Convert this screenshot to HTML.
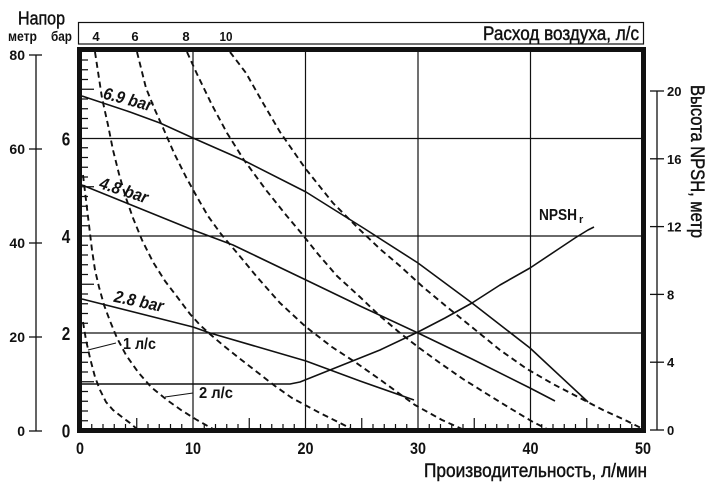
<!DOCTYPE html>
<html>
<head>
<meta charset="utf-8">
<style>
html,body{margin:0;padding:0;background:#fff;}
body{width:725px;height:496px;overflow:hidden;}
svg{display:block;}
text{font-family:"Liberation Sans",Arial,sans-serif;fill:#111;}
.b{font-weight:bold;}
.t{stroke:#111;stroke-width:0.45;}
</style>
</head>
<body>
<svg width="725" height="496" viewBox="0 0 725 496" xmlns="http://www.w3.org/2000/svg">
<rect x="0" y="0" width="725" height="496" fill="#fff"/>

<!-- Top air box -->
<rect x="78.5" y="22.5" width="565" height="21.5" fill="none" stroke="#111" stroke-width="1.2"/>
<text x="483" y="40" font-size="19" class="t" textLength="156" lengthAdjust="spacingAndGlyphs">Расход воздуха, л/с</text>
<g font-size="13" text-anchor="middle">
<text x="96" y="41" class="b">4</text>
<text x="135" y="41" class="b">6</text>
<text x="186" y="41" class="b">8</text>
<text x="226" y="41" class="b" textLength="13" lengthAdjust="spacingAndGlyphs">10</text>
</g>

<!-- Left header -->
<text x="18" y="24.5" font-size="18" class="t" textLength="47" lengthAdjust="spacingAndGlyphs">Напор</text>
<text x="8" y="41" font-size="14" class="b" textLength="29" lengthAdjust="spacingAndGlyphs">метр</text>
<text x="51" y="41" font-size="14" class="b" textLength="21" lengthAdjust="spacingAndGlyphs">бар</text>

<!-- Left meter axis -->
<g stroke="#111" stroke-width="1.3">
<line x1="36" y1="55" x2="36" y2="431"/>
<line x1="29" y1="55" x2="42" y2="55"/>
<line x1="29" y1="149" x2="42" y2="149"/>
<line x1="29" y1="243" x2="42" y2="243"/>
<line x1="29" y1="337" x2="42" y2="337"/>
<line x1="29" y1="431" x2="42" y2="431"/>
</g>
<g font-size="14" text-anchor="end">
<text x="25" y="60" class="b">80</text>
<text x="25" y="154" class="b">60</text>
<text x="25" y="248" class="b">40</text>
<text x="25" y="342" class="b">20</text>
<text x="25" y="436" class="b">0</text>
</g>

<!-- Bar labels -->
<g font-size="18" text-anchor="middle">
<text x="66" y="145.5" class="b" textLength="8.5" lengthAdjust="spacingAndGlyphs">6</text>
<text x="66" y="243" class="b" textLength="8.5" lengthAdjust="spacingAndGlyphs">4</text>
<text x="66" y="340" class="b" textLength="8.5" lengthAdjust="spacingAndGlyphs">2</text>
<text x="66" y="437.5" class="b" textLength="8.5" lengthAdjust="spacingAndGlyphs">0</text>
</g>

<!-- Grid -->
<g stroke="#111" stroke-width="1.2">
<line x1="193" y1="50" x2="193" y2="430"/>
<line x1="305.5" y1="50" x2="305.5" y2="430"/>
<line x1="418" y1="50" x2="418" y2="430"/>
<line x1="530.5" y1="50" x2="530.5" y2="430"/>
<line x1="80" y1="138.5" x2="643" y2="138.5"/>
<line x1="80" y1="236" x2="643" y2="236"/>
<line x1="80" y1="333" x2="643" y2="333"/>
</g>

<!-- Left inner ticks -->
<path stroke="#111" stroke-width="1.2" fill="none" d="
M82 420.75h6 M82 411h6 M82 401.25h6 M82 391.5h6 M82 381.75h12
M82 372h6 M82 362.25h6 M82 352.5h6 M82 342.75h6
M82 323.25h6 M82 313.5h6 M82 303.75h6 M82 294h6 M82 284.25h12
M82 274.5h6 M82 264.75h6 M82 255h6 M82 245.25h6
M82 225.75h6 M82 216h6 M82 206.25h6 M82 196.5h6 M82 186.75h12
M82 177h6 M82 167.25h6 M82 157.5h6 M82 147.75h6
M82 128.25h6 M82 118.5h6 M82 108.75h6 M82 99h6 M82 89.25h12
M82 79.5h6 M82 69.75h6 M82 60h6"/>

<!-- Bottom inner ticks -->
<path stroke="#111" stroke-width="1.2" fill="none" d="
M91.75 430v-6 M103 430v-6 M114.25 430v-6 M125.5 430v-6 M136.75 430v-12 M148 430v-6 M159.25 430v-6 M170.5 430v-6 M181.75 430v-6
M204.25 430v-6 M215.5 430v-6 M226.75 430v-6 M238 430v-6 M249.25 430v-12 M260.5 430v-6 M271.75 430v-6 M283 430v-6 M294.25 430v-6
M316.75 430v-6 M328 430v-6 M339.25 430v-6 M350.5 430v-6 M361.75 430v-12 M373 430v-6 M384.25 430v-6 M395.5 430v-6 M406.75 430v-6
M429.25 430v-6 M440.5 430v-6 M451.75 430v-6 M463 430v-6 M474.25 430v-12 M485.5 430v-6 M496.75 430v-6 M508 430v-6 M519.25 430v-6
M541.75 430v-6 M553 430v-6 M564.25 430v-6 M575.5 430v-6 M586.75 430v-12 M598 430v-6 M609.25 430v-6 M620.5 430v-6 M631.75 430v-6"/>

<!-- Dashed air consumption curves -->
<g fill="none" stroke="#111" stroke-width="1.9" stroke-dasharray="6 4" stroke-linejoin="round">
<!-- 1 l/s -->
<polyline points="83,322 86,340 90,358 95,377 100,390 106,402 113,410 122,417 130,423 137,429"/>
<!-- 2 l/s -->
<polyline points="83,175 86,200 89,225 92,250 95,270 99,287 104,305 110,321 117,338 126,355 138,372 151,387 167,400 181,410 197,420 213,429"/>
<!-- 4 -->
<polyline points="95,52 102,98 108,125 113,150 119,174 126,198 133,218 142,240 153,262 165,281 178,298 190,314 200,325 211,335 224,346 239,358 257,372 275,386 292,398 320,413 350,428"/>
<!-- 6 -->
<polyline points="137,52 146,88 155,110 164,130 174,153 186,177 197,197 208,216 221,234 238,254 257,277 280,303 306,327 332,347 355,362 382,381 415,405 442,420 462,429"/>
<!-- 8 -->
<polyline points="187,52 197,74 212,105 227,133 244,160 266,190 286,215 302,234 318,254 337,276 360,297 380,316 400,333 418,347 440,363 463,379 487,394 513,410 533,422 547,429"/>
<!-- 10 -->
<polyline points="230,52 246,73 263,103 280,132 305,168 333,203 358,228 380,249 400,266 423,287 447,307 473,328 500,350 527,369 553,384 580,398 603,410 627,421 641,428"/>
</g>

<!-- Solid head curves -->
<g fill="none" stroke="#111" stroke-width="1.6" stroke-linejoin="round">
<polyline points="82,96 130,112 160,123 193,138 243,160 306,192 365,229 418,263 472,303 530,348 588,402"/>
<polyline points="82,185 193,230 233,245 306,280 360,306 418,333 472,359 530,388 555,401"/>
<polyline points="82,299 193,327 210,333 306,361 360,381 414,400"/>
<!-- NPSH -->
<polyline points="82,384 290,384 300,382 340,366 380,350 418,332 445,318 472,303 500,285 530,268 560,248 575,238 588,230 594,227"/>
</g>

<!-- Leaders -->
<g stroke="#111" stroke-width="1.1">
<line x1="116" y1="343" x2="88" y2="350"/>
<line x1="193" y1="393" x2="165" y2="397"/>
</g>

<!-- Curve labels -->
<g font-size="17" text-anchor="middle">
<text transform="translate(128,99) rotate(15)" x="0" y="6" font-weight="bold" font-style="italic" textLength="50" lengthAdjust="spacingAndGlyphs">6.9 bar</text>
<text transform="translate(124,190) rotate(18)" x="0" y="6" font-weight="bold" font-style="italic" textLength="50" lengthAdjust="spacingAndGlyphs">4.8 bar</text>
<text transform="translate(139,301) rotate(12)" x="0" y="6" font-weight="bold" font-style="italic" textLength="50" lengthAdjust="spacingAndGlyphs">2.8 bar</text>
</g>
<text x="123" y="349" font-size="16" class="b" textLength="33" lengthAdjust="spacingAndGlyphs">1 л/с</text>
<text x="199" y="398" font-size="16" class="b" textLength="34" lengthAdjust="spacingAndGlyphs">2 л/с</text>
<text x="539" y="220" font-size="16" class="b" textLength="38" lengthAdjust="spacingAndGlyphs">NPSH</text>
<text x="579" y="223" font-size="11" class="b">r</text>

<!-- Frame -->
<rect x="79.5" y="49.5" width="564" height="381" fill="none" stroke="#111" stroke-width="5"/>

<!-- Right NPSH axis -->
<g stroke="#111" stroke-width="1.3">
<line x1="657" y1="91" x2="657" y2="430"/>
<line x1="650" y1="91" x2="664" y2="91"/>
<line x1="650" y1="158.8" x2="664" y2="158.8"/>
<line x1="650" y1="226.6" x2="664" y2="226.6"/>
<line x1="650" y1="294.4" x2="664" y2="294.4"/>
<line x1="650" y1="362.2" x2="664" y2="362.2"/>
<line x1="650" y1="430" x2="664" y2="430"/>
</g>
<g font-size="13">
<text x="667" y="96" class="b">20</text>
<text x="667" y="164" class="b">16</text>
<text x="667" y="231.5" class="b">12</text>
<text x="667" y="299.5" class="b">8</text>
<text x="667" y="367" class="b">4</text>
<text x="667" y="435" class="b">0</text>
</g>
<text transform="translate(691,85) rotate(90)" x="0" y="0" font-size="19" class="t" textLength="153" lengthAdjust="spacingAndGlyphs">Высота NPSH, метр</text>

<!-- Bottom axis labels -->
<g font-size="17" text-anchor="middle">
<text x="80" y="454" class="b" textLength="8" lengthAdjust="spacingAndGlyphs">0</text>
<text x="193" y="454" class="b" textLength="16" lengthAdjust="spacingAndGlyphs">10</text>
<text x="305.5" y="454" class="b" textLength="16" lengthAdjust="spacingAndGlyphs">20</text>
<text x="418" y="454" class="b" textLength="16" lengthAdjust="spacingAndGlyphs">30</text>
<text x="530.5" y="454" class="b" textLength="16" lengthAdjust="spacingAndGlyphs">40</text>
<text x="643" y="454" class="b" textLength="16" lengthAdjust="spacingAndGlyphs">50</text>
</g>
<text x="424" y="477" font-size="19" class="t" textLength="223" lengthAdjust="spacingAndGlyphs">Производительность, л/мин</text>
</svg>
</body>
</html>
